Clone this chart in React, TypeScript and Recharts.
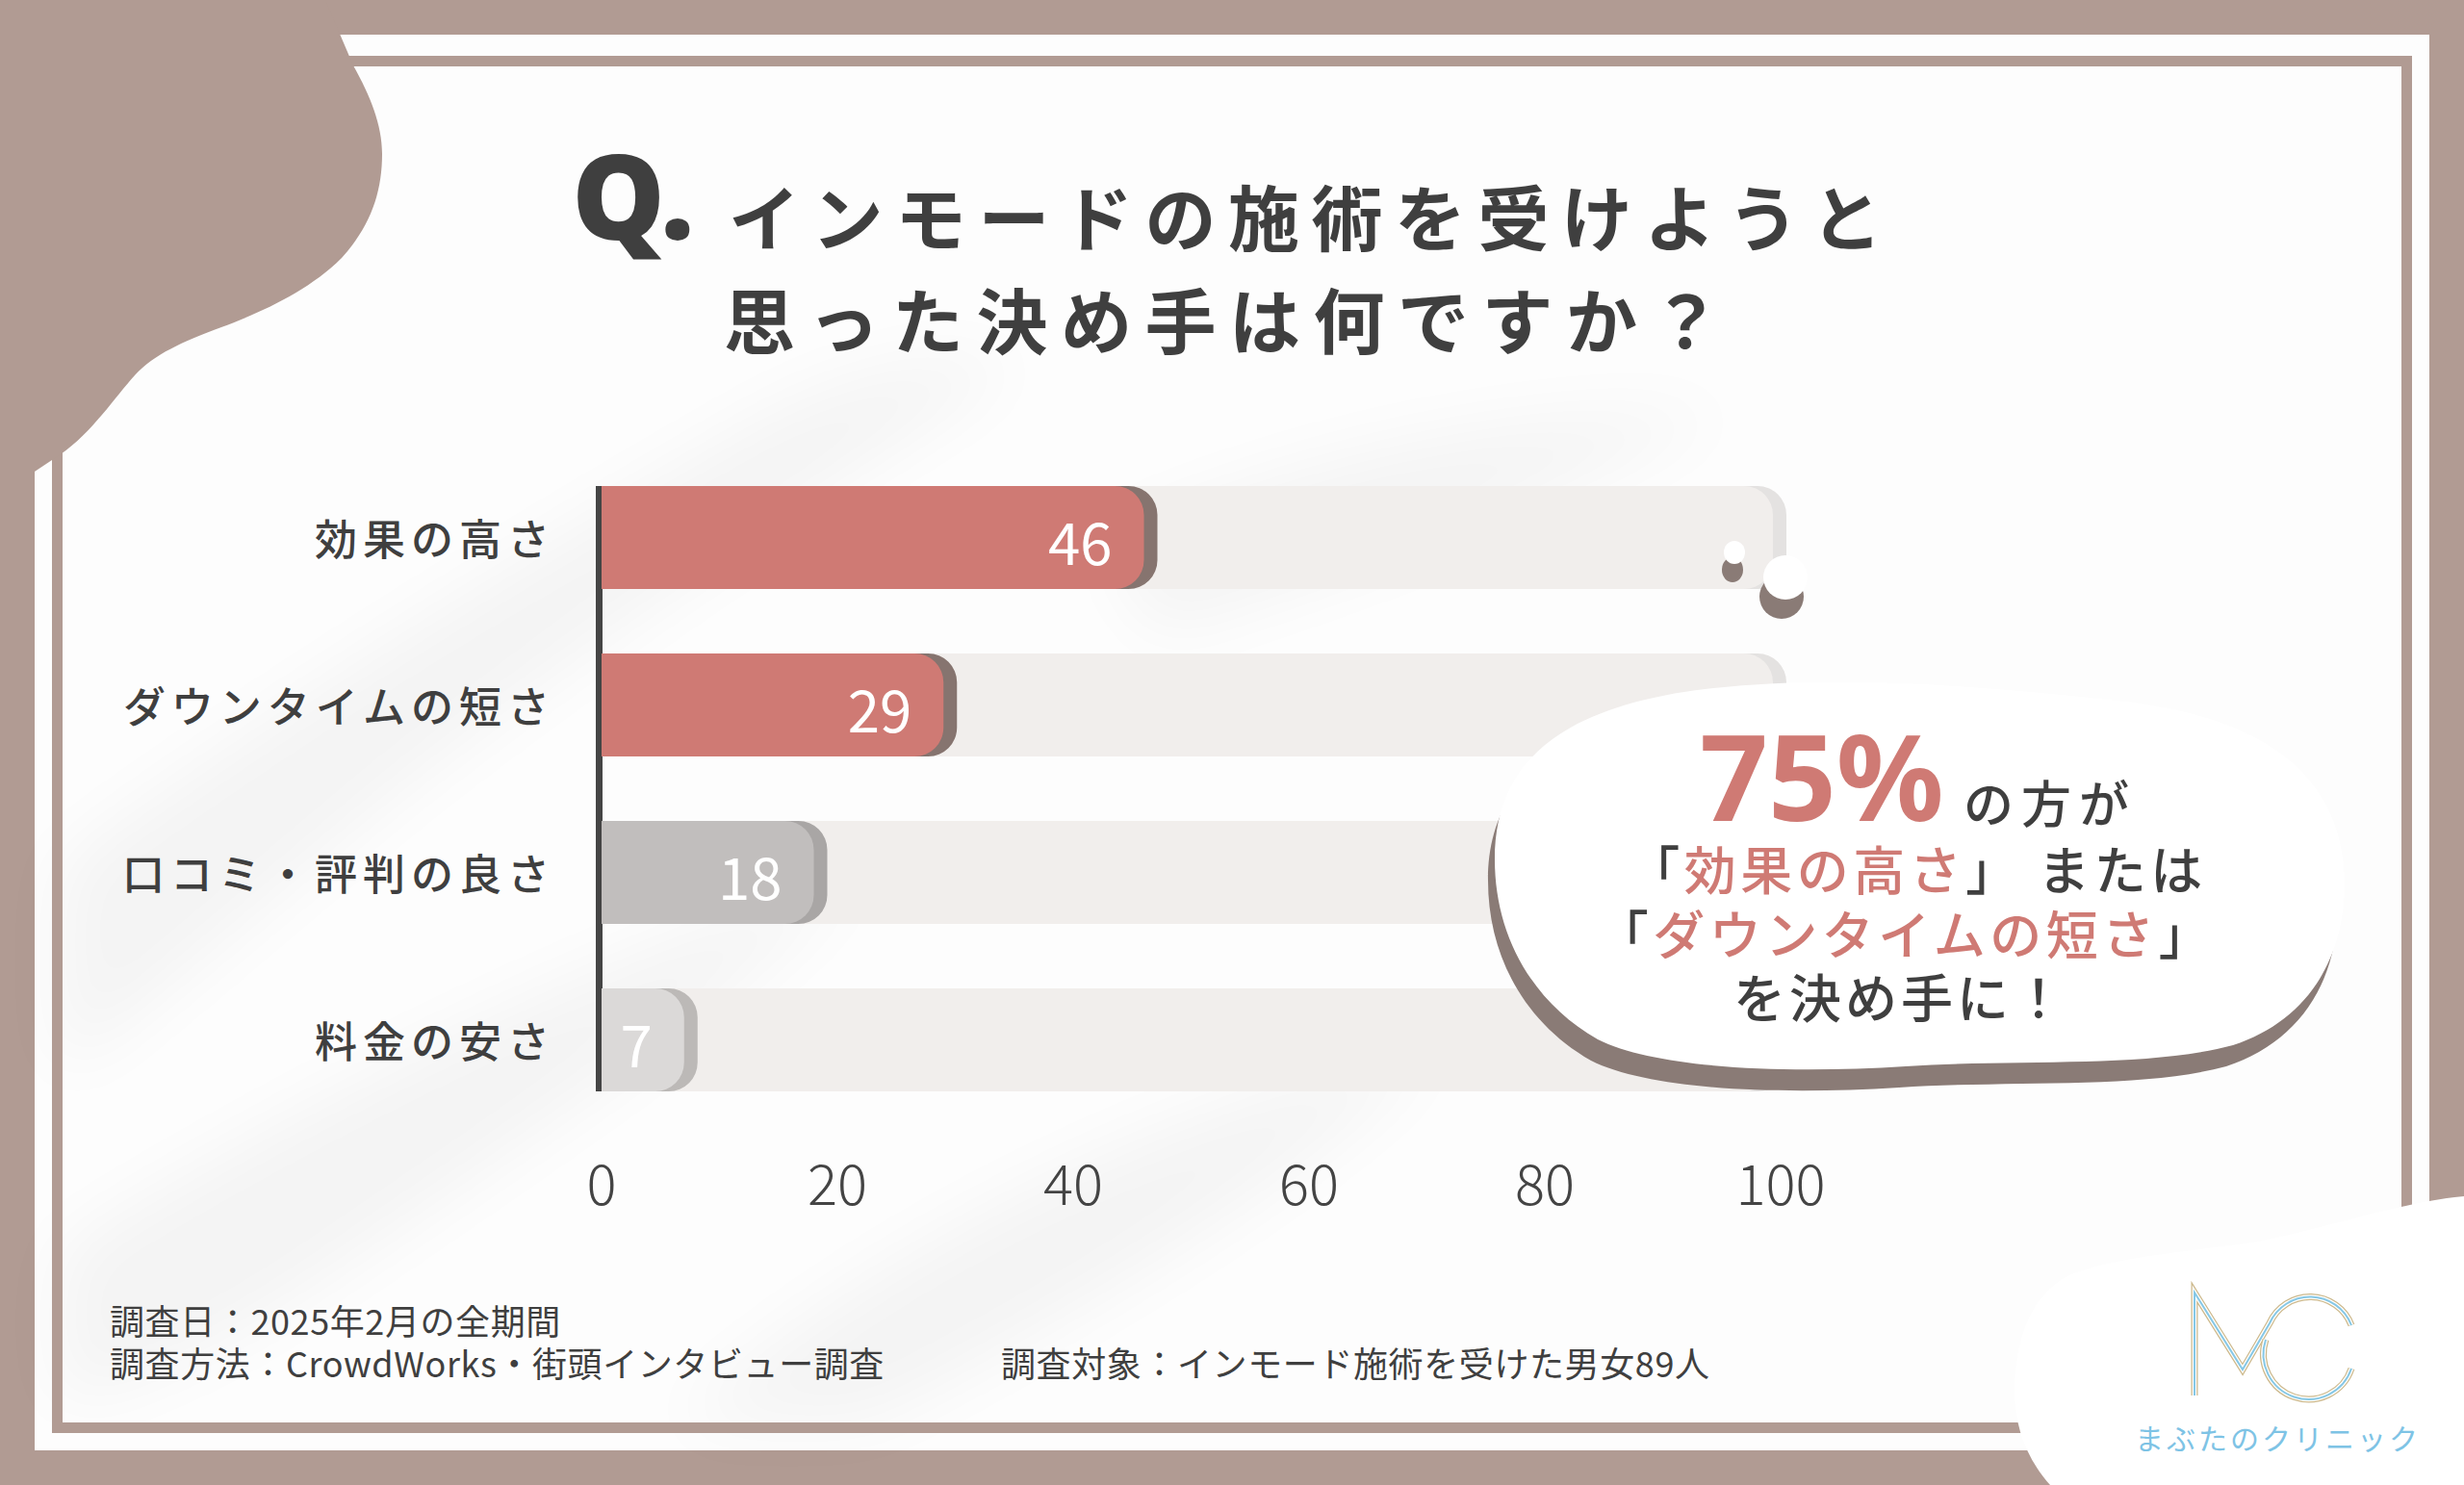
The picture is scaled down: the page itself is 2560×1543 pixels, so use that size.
import React from 'react';
import { BarChart, Bar, XAxis, YAxis } from 'recharts';

// ---------- data ----------
const categories = ['効果の高さ', 'ダウンタイムの短さ', '口コミ・評判の良さ', '料金の安さ'];
const values = [46, 29, 18, 7];
const xTicks = [0, 20, 40, 60, 80, 100];
const barColors = ['#cf7a74', '#cf7a74', '#c1bebd', '#dbd9d8'];
const shadowColors = ['#86746f', '#86746f', '#a9a6a5', '#bcb9b7'];

const titleQ = 'Q.';
const titleLine1 = 'インモードの施術を受けようと';
const titleLine2 = '思った決め手は何ですか？';
const calloutPercent = '75%';
const calloutSuffix = 'の方が';
const calloutTop = '効果の高さ';
const calloutMid = 'ダウンタイムの短さ';
const calloutEnd = 'を決め手に！';
const calloutOr = 'または';
const footerDate = '調査日：2025年2月の全期間';
const footerMethod = '調査方法：CrowdWorks・街頭インタビュー調査';
const footerTarget = '調査対象：インモード施術を受けた男女89人';
const logoName = 'まぶたのクリニック';

const data = categories.map((name, i) => ({
  name,
  value: values[i],
  fill: barColors[i],
  shadow: shadowColors[i],
}));

// ---------- layout ----------
const W = 2560;
const H = 1543;
const BROWN = '#b19b93';
const DARK = '#3f3f3f';
const RED = '#cf7a74';
const JP = "'Noto Sans CJK JP', 'Noto Sans', sans-serif";

const PLOT_LEFT = 625;
const PLOT_RIGHT = 1850;
const PLOT_TOP = 471;
const PLOT_BOTTOM = 1167;
const YAXIS_W = 500;
const XAXIS_H = 110;
const BAR_SIZE = 107;
const BAND = (PLOT_BOTTOM - PLOT_TOP) / categories.length;

function rightRounded(x: number, y: number, w: number, h: number, r: number) {
  const rr = Math.max(0, Math.min(r, w, h / 2));
  return `M${x},${y} H${x + w - rr} A${rr},${rr} 0 0 1 ${x + w},${y + rr} V${y + h - rr} A${rr},${rr} 0 0 1 ${x + w - rr},${y + h} H${x} Z`;
}

const BgShape = (props: any) => {
  const { x, y, width, height, index } = props;
  const last = index === categories.length - 1;
  return (
    <g>
      <path d={rightRounded(x, y, width + 6, height, 30)} fill="#e4e2e1" />
      <path d={rightRounded(x, y, width - 8, height, 30)} fill="#f1eeec" />
      <rect x={x - 6} y={y} width={7} height={height + (last ? 0 : BAND - height)} fill="#454545" />
    </g>
  );
};

const BarShape = (props: any) => {
  const { x, y, width, height, payload } = props;
  return (
    <g>
      <path d={rightRounded(x, y, width + 14, height, 30)} fill={payload.shadow} />
      <path d={rightRounded(x, y, width, height, 30)} fill={payload.fill} />
      <text
        x={x + width - 33}
        y={y + height / 2 + 2}
        textAnchor="end"
        dominantBaseline="central"
        fill="#ffffff"
        fontSize={60}
        fontFamily={JP}
        fontWeight={400}
      >
        {payload.value}
      </text>
    </g>
  );
};

const YTick = (props: any) => {
  const { y, payload } = props;
  return (
    <text
      x={PLOT_LEFT - 48}
      y={y}
      textAnchor="end"
      dominantBaseline="central"
      fill={DARK}
      fontSize={44}
      letterSpacing={6}
      fontWeight={500}
      fontFamily={JP}
    >
      {payload.value}
    </text>
  );
};

const XTick = (props: any) => {
  const { x, payload } = props;
  return (
    <text
      x={x}
      y={PLOT_BOTTOM + 60}
      textAnchor="middle"
      dominantBaseline="central"
      fill="#444"
      fontSize={58}
      fontWeight={300}
      fontFamily={JP}
    >
      {payload.value}
    </text>
  );
};

const BUBBLE =
  'M1553,893 C1553,800 1610,738 1763,717 C1900,700 2050,712 2200,728 C2330,742 2425,790 2435,900 C2442,990 2400,1060 2320,1086 C2230,1110 2100,1100 1980,1108 C1850,1116 1720,1110 1660,1080 C1590,1040 1553,970 1553,893 Z';

const TOP_LEFT_BLOB =
  'M0,0 H338 L367,68 C385,100 397,130 397,160 C397,200 385,235 355,268 C320,303 270,325 230,340 C190,355 160,368 140,390 C120,412 95,450 63,472 L36,490 L0,490 Z';

const BOTTOM_RIGHT_BLOB =
  'M2560,1243 C2500,1248 2420,1275 2347,1290 C2280,1300 2200,1305 2150,1325 C2110,1345 2095,1390 2093,1440 C2092,1480 2105,1515 2130,1543 L2560,1543 Z';

const LOGO_M = 'M2280,1450 L2280,1343 L2330,1423 L2358,1375 A46,46 0 0 1 2443,1377';
const LOGO_C = 'M2354,1392 A46,46 0 0 0 2443,1422';

function LogoStroke({ d }: { d: string }) {
  return (
    <g fill="none" strokeLinejoin="miter">
      <path d={d} stroke="#cdb98c" strokeWidth={7} />
      <path d={d} stroke="#ffffff" strokeWidth={4.5} />
      <path d={d} stroke="#86c8e6" strokeWidth={2} />
    </g>
  );
}

export default function App() {
  return (
    <div style={{ position: 'absolute', left: 0, top: 0, width: W, height: H, overflow: 'hidden', background: BROWN }}>
      <svg width={W} height={H} style={{ position: 'absolute', left: 0, top: 0 }}>
        <defs>
          <filter id="soft" x="-50%" y="-50%" width="200%" height="200%">
            <feGaussianBlur stdDeviation="35" />
          </filter>
        </defs>
        <rect x={0} y={0} width={W} height={H} fill={BROWN} />
        <rect x={36} y={36} width={2488} height={1471} fill="#fdfdfd" />
        {/* soft shadow texture */}
        <g filter="url(#soft)" fill="#000" opacity={0.035}>
          <path d="M60,900 C250,760 500,600 800,430 C900,380 1000,360 1060,380 C900,480 650,640 420,820 C300,920 150,1050 60,1120 Z" />
          <path d="M60,1300 C300,1150 600,1000 900,900 C820,1000 600,1150 350,1320 C250,1390 150,1440 60,1460 Z" />
          <path d="M700,1480 C900,1300 1200,1150 1500,1080 C1400,1200 1100,1380 900,1480 Z" />
          <path d="M1150,560 C1350,470 1600,420 1800,430 C1600,520 1400,600 1200,660 Z" />
        </g>
        <rect x={59.5} y={63.5} width={2441} height={1420} fill="none" stroke={BROWN} strokeWidth={11} />
        <path d={TOP_LEFT_BLOB} fill={BROWN} />
        <path d={BOTTOM_RIGHT_BLOB} fill="#ffffff" />

        {/* logo */}
        <LogoStroke d={LOGO_M} />
        <LogoStroke d={LOGO_C} />
        <text x={2218} y={1493} dominantBaseline="central" fill="#7ec3e5" fontSize={30} letterSpacing={3} fontFamily={JP}>
          {logoName}
        </text>

        {/* title */}
        <text x={594} y={249} fill={DARK} fontSize={122} fontWeight={900} fontFamily="'Noto Sans', Roboto, sans-serif">
          {titleQ}
        </text>
        <text x={757} y={222} dominantBaseline="central" fill={DARK} fontSize={74} letterSpacing={12.5} fontWeight={700} fontFamily={JP}>
          {titleLine1}
        </text>
        <text x={752} y={329} dominantBaseline="central" fill={DARK} fontSize={74} letterSpacing={13.5} fontWeight={700} fontFamily={JP}>
          {titleLine2}
        </text>

        {/* footer */}
        <text x={114} y={1371} dominantBaseline="central" fill={DARK} fontSize={36} letterSpacing={0.6} fontFamily={JP}>
          {footerDate}
        </text>
        <text x={114} y={1415} dominantBaseline="central" fill={DARK} fontSize={36} letterSpacing={0.6} fontFamily={JP}>
          {footerMethod}
        </text>
        <text x={1040} y={1415} dominantBaseline="central" fill={DARK} fontSize={36} letterSpacing={0.6} fontFamily={JP}>
          {footerTarget}
        </text>
      </svg>

      <div style={{ position: 'absolute', left: 0, top: 0 }}>
        <BarChart
          width={W}
          height={H}
          data={data}
          layout="vertical"
          margin={{ top: PLOT_TOP, right: W - PLOT_RIGHT, bottom: H - PLOT_BOTTOM - XAXIS_H, left: PLOT_LEFT - YAXIS_W }}
        >
          <XAxis
            type="number"
            domain={[0, 100]}
            ticks={xTicks}
            axisLine={false}
            tickLine={false}
            height={XAXIS_H}
            tick={<XTick />}
            interval={0}
          />
          <YAxis
            type="category"
            dataKey="name"
            width={YAXIS_W}
            axisLine={false}
            tickLine={false}
            tick={<YTick />}
            interval={0}
          />
          <Bar
            dataKey="value"
            barSize={BAR_SIZE}
            isAnimationActive={false}
            background={(p: any) => <BgShape {...p} />}
            shape={(p: any) => <BarShape {...p} />}
          />
        </BarChart>
      </div>

      <svg width={W} height={H} style={{ position: 'absolute', left: 0, top: 0, pointerEvents: 'none' }}>
        {/* thought dots */}
        <ellipse cx={1800} cy={592} rx={11} ry={13} fill="#8a7b76" />
        <ellipse cx={1802} cy={574} rx={11} ry={12} fill="#ffffff" />
        <circle cx={1851} cy={620} r={23} fill="#8a7b76" />
        <circle cx={1855} cy={600} r={23} fill="#ffffff" />
        {/* bubble */}
        <path d={BUBBLE} fill="#8a7b76" transform="translate(-7,22)" />
        <path d={BUBBLE} fill="#ffffff" />
        <text x={1766} y={853} fill={RED} fontSize={124} fontWeight={700} fontFamily="'Noto Sans', sans-serif">
          {calloutPercent}
        </text>
        <text x={2040} y={832} dominantBaseline="central" fill={DARK} fontSize={52} letterSpacing={8} fontWeight={500} fontFamily={JP}>
          {calloutSuffix}
        </text>
        <text x={1992} y={901} textAnchor="middle" dominantBaseline="central" fontSize={54} letterSpacing={4.5} fontWeight={500} fontFamily={JP}>
          <tspan fill={DARK}>「</tspan>
          <tspan fill={RED}>{calloutTop}</tspan>
          <tspan fill={DARK}>」 {calloutOr}</tspan>
        </text>
        <text x={1980} y={968} textAnchor="middle" dominantBaseline="central" fontSize={54} letterSpacing={4.5} fontWeight={500} fontFamily={JP}>
          <tspan fill={DARK}>「</tspan>
          <tspan fill={RED}>{calloutMid}</tspan>
          <tspan fill={DARK}>」</tspan>
        </text>
        <text x={1975} y={1034} textAnchor="middle" dominantBaseline="central" fill={DARK} fontSize={54} letterSpacing={4} fontWeight={500} fontFamily={JP}>
          {calloutEnd}
        </text>
      </svg>
    </div>
  );
}
